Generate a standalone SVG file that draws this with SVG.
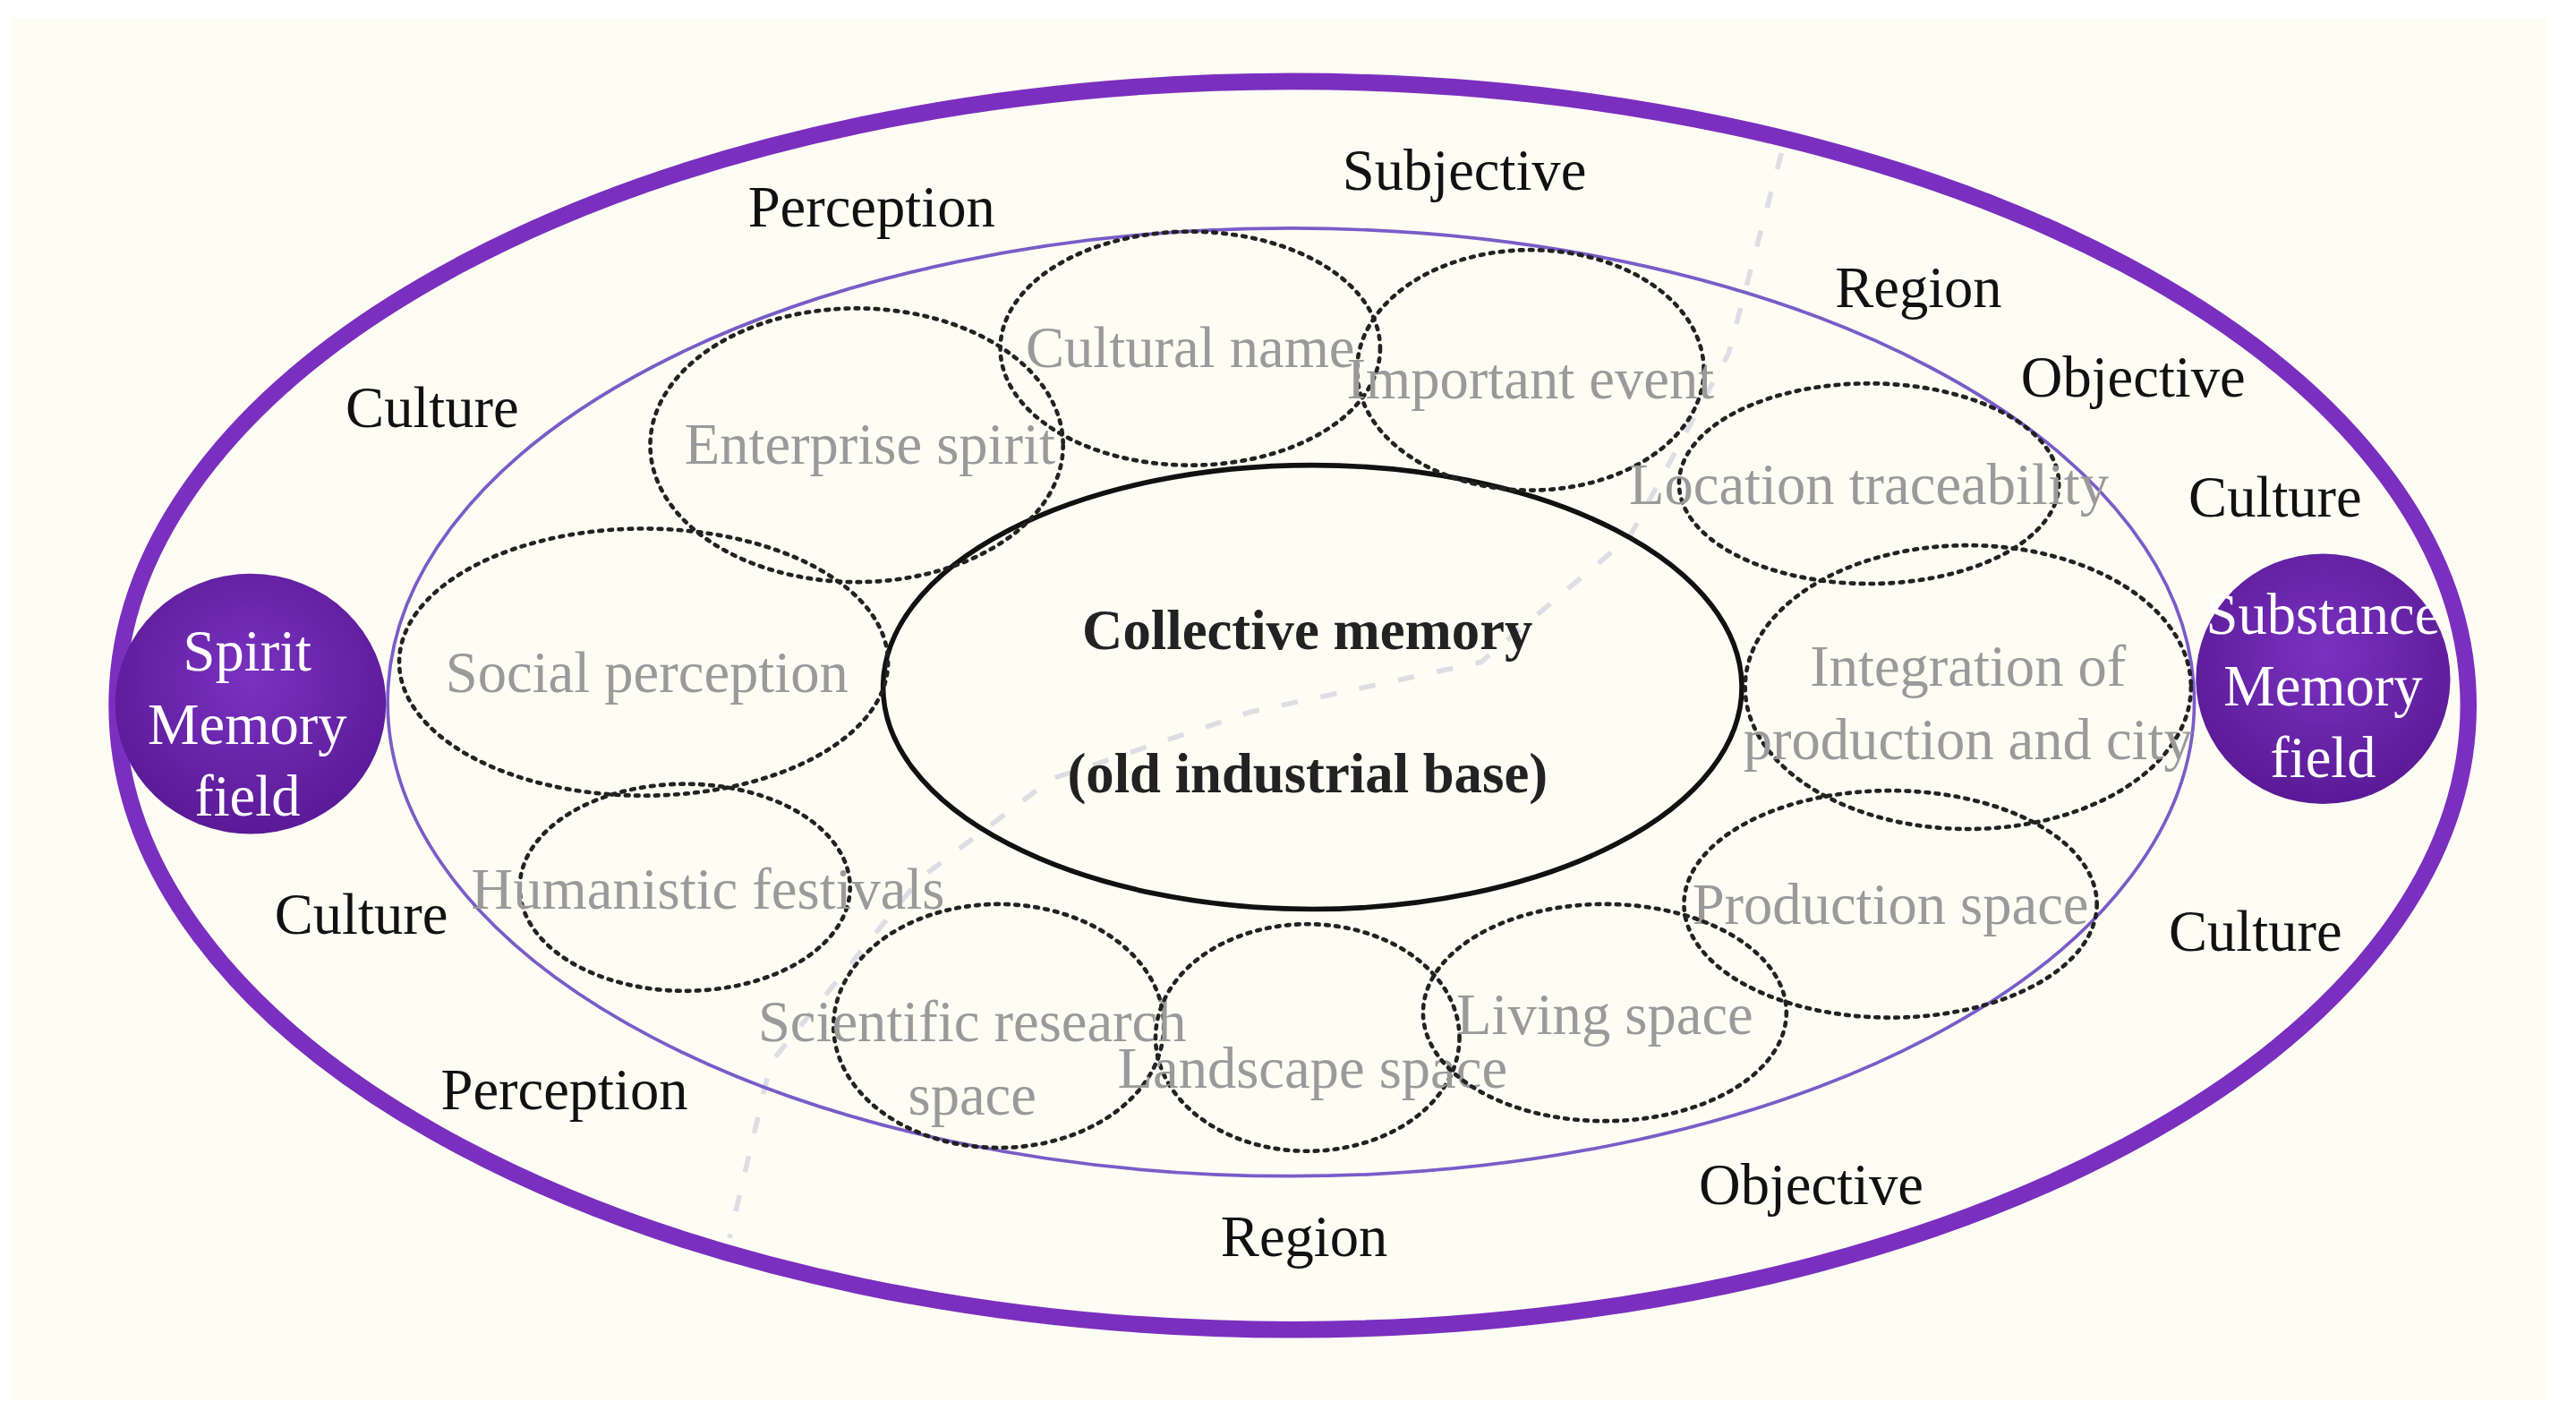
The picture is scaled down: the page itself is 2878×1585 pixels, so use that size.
<svg xmlns="http://www.w3.org/2000/svg" width="2878" height="1585" viewBox="0 0 2878 1585">
<defs>
<radialGradient id="pg" cx="50%" cy="40%" r="60%"><stop offset="0" stop-color="#7a32c0"/><stop offset="1" stop-color="#5a1a96"/></radialGradient>
<style>
.lab{font-family:"Liberation Serif",serif;font-size:35px;fill:#111;text-anchor:middle}
.in{font-family:"Liberation Serif",serif;font-size:35px;fill:#9a9a9a;text-anchor:middle}
.ctr{font-family:"Liberation Serif",serif;font-size:34px;font-weight:bold;fill:#222;text-anchor:middle}
.wt{font-family:"Liberation Serif",serif;font-size:35px;fill:#fff;text-anchor:middle}
.dot{fill:none;stroke:#222;stroke-width:2.5;stroke-dasharray:2 4;stroke-linecap:round}
</style>
</defs>
<rect width="2878" height="1585" fill="#fff"/>
<g transform="translate(-6,-6) scale(1.845,1.864)">
<rect x="10" y="14" width="1535" height="828" fill="#fdfdf4"/>
<g id="connectors" fill="none" stroke="#c8c8d8" stroke-width="3" stroke-dasharray="10 14" opacity="0.6">
<path d="M1082 95 L1050 215 L990 325 L900 400 L760 430 L640 470 L560 530 L470 640 L445 745"/>
</g>
<g id="outer"><ellipse cx="786" cy="426" rx="712" ry="374" fill="none" stroke="#7b2fbf" stroke-width="10"/></g>
<g id="inner"><ellipse cx="785" cy="424" rx="547" ry="284" fill="none" stroke="#7a5cc8" stroke-width="2"/></g>
<g id="center"><ellipse cx="798" cy="415" rx="260" ry="133" fill="none" stroke="#111" stroke-width="3"/>
<text class="ctr" x="795" y="392">Collective memory</text>
<text class="ctr" x="795" y="478">(old industrial base)</text></g>
<g id="n-cultural"><ellipse class="dot" cx="724" cy="212" rx="115" ry="70"/><text class="in" x="724" y="223">Cultural name</text></g>
<g id="n-event"><ellipse class="dot" cx="930" cy="225" rx="105" ry="72"/><text class="in" x="930" y="242">Important event</text></g>
<g id="n-enterprise"><ellipse class="dot" cx="522" cy="270" rx="125" ry="82"/><text class="in" x="530" y="281">Enterprise spirit</text></g>
<g id="n-location"><ellipse class="dot" cx="1135" cy="293" rx="115" ry="60"/><text class="in" x="1135" y="305">Location traceability</text></g>
<g id="n-social"><ellipse class="dot" cx="393" cy="400" rx="148" ry="80"/><text class="in" x="395" y="418">Social perception</text></g>
<g id="n-integration"><ellipse class="dot" cx="1195" cy="415" rx="135" ry="85"/><text class="in" x="1195" y="414">Integration of</text><text class="in" x="1195" y="458">production and city</text></g>
<g id="n-humanistic"><ellipse class="dot" cx="418" cy="535" rx="100" ry="62"/><text class="in" x="432" y="548">Humanistic festivals</text></g>
<g id="n-production"><ellipse class="dot" cx="1148" cy="545" rx="125" ry="68"/><text class="in" x="1148" y="557">Production space</text></g>
<g id="n-scientific"><ellipse class="dot" cx="608" cy="618" rx="100" ry="73"/><text class="in" x="592" y="627">Scientific research</text><text class="in" x="592" y="671">space</text></g>
<g id="n-landscape"><ellipse class="dot" cx="795" cy="625" rx="92" ry="68"/><text class="in" x="798" y="655">Landscape space</text></g>
<g id="n-living"><ellipse class="dot" cx="975" cy="610" rx="110" ry="65"/><text class="in" x="975" y="623">Living space</text></g>
<g id="spirit"><ellipse cx="155" cy="425" rx="82" ry="78" fill="url(#pg)"/><text class="wt" x="153" y="405">Spirit</text><text class="wt" x="153" y="449">Memory</text><text class="wt" x="153" y="492">field</text></g>
<g id="substance"><ellipse cx="1410" cy="410" rx="77" ry="75" fill="url(#pg)"/><text class="wt" x="1410" y="383">Substance</text><text class="wt" x="1410" y="426">Memory</text><text class="wt" x="1410" y="469">field</text></g>
<g id="labels">
<text class="lab" x="890" y="117">Subjective</text>
<text class="lab" x="531" y="139">Perception</text>
<text class="lab" x="1165" y="187">Region</text>
<text class="lab" x="265" y="259">Culture</text>
<text class="lab" x="1295" y="241">Objective</text>
<text class="lab" x="1381" y="313">Culture</text>
<text class="lab" x="222" y="563">Culture</text>
<text class="lab" x="1369" y="573">Culture</text>
<text class="lab" x="345" y="668">Perception</text>
<text class="lab" x="1100" y="725">Objective</text>
<text class="lab" x="793" y="756">Region</text>
</g>
</g>
</svg>
